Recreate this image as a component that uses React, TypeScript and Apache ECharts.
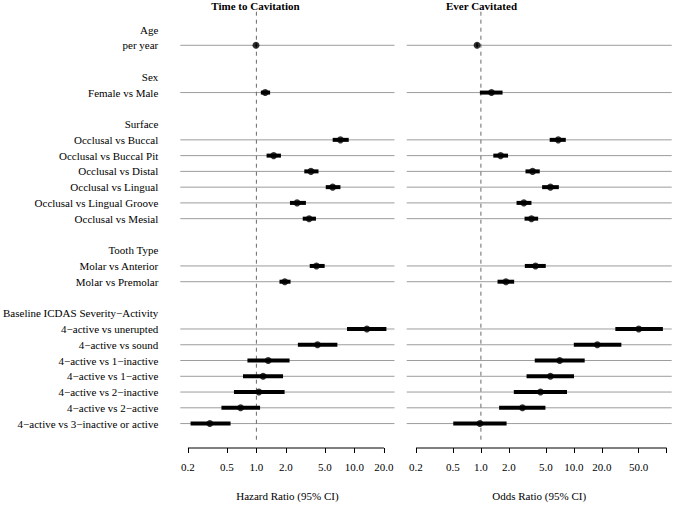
import React, { useEffect, useRef } from "react";
import * as echarts from "echarts";

// ---------- data ----------
const groupHeaders = ["Age", "Sex", "Surface", "Tooth Type", "Baseline ICDAS Severity\u2212Activity"];
const ageItems = ["per year"];
const sexItems = ["Female vs Male"];
const surfaceItems = [
  "Occlusal vs Buccal",
  "Occlusal vs Buccal Pit",
  "Occlusal vs Distal",
  "Occlusal vs Lingual",
  "Occlusal vs Lingual Groove",
  "Occlusal vs Mesial",
];
const toothItems = ["Molar vs Anterior", "Molar vs Premolar"];
const icdasItems = [
  "4\u2212active vs unerupted",
  "4\u2212active vs sound",
  "4\u2212active vs 1\u2212inactive",
  "4\u2212active vs 1\u2212active",
  "4\u2212active vs 2\u2212inactive",
  "4\u2212active vs 2\u2212active",
  "4\u2212active vs 3\u2212inactive or active",
];
const groupItems = [ageItems, sexItems, surfaceItems, toothItems, icdasItems];

// Time to Cavitation: hazard ratios (estimate, lower, upper)
const hrEst = [0.99, 1.23, 7.2, 1.5, 3.6, 6.0, 2.6, 3.45, 4.1, 1.95, 13.4, 4.2, 1.32, 1.17, 1.06, 0.69, 0.335];
const hrLo = [0.98, 1.11, 6.0, 1.27, 3.08, 5.1, 2.2, 2.97, 3.5, 1.72, 8.4, 2.65, 0.81, 0.73, 0.59, 0.44, 0.213];
const hrHi = [1.01, 1.38, 8.75, 1.78, 4.3, 7.2, 3.2, 4.05, 4.97, 2.23, 21.2, 6.7, 2.18, 1.87, 1.94, 1.09, 0.545];

// Ever Cavitated: odds ratios (estimate, lower, upper)
const orEst = [0.91, 1.3, 6.8, 1.63, 3.6, 5.6, 2.9, 3.5, 3.87, 1.86, 50, 17.9, 7.05, 5.6, 4.38, 2.8, 0.975];
const orLo = [0.89, 0.975, 5.5, 1.36, 3.02, 4.56, 2.42, 2.95, 2.97, 1.51, 28, 10, 3.8, 3.1, 2.26, 1.57, 0.504];
const orHi = [0.93, 1.71, 8.2, 1.96, 4.3, 6.9, 3.5, 4.13, 4.99, 2.28, 91, 32.5, 13.1, 10.05, 8.45, 4.95, 1.89];

const hrTicks = [0.2, 0.5, 1, 2, 5, 10, 20];
const hrTickLabels = [0.2, 0.5, 1, 2, 5, 10, 20];
const orTicks = [0.2, 0.5, 1, 2, 5, 10, 20, 50, 100];
const orTickLabels = [0.2, 0.5, 1, 2, 5, 10, 20, 50];

const panelTitles = ["Time to Cavitation", "Ever Cavitated"];
const axisTitles = ["Hazard Ratio (95% CI)", "Odds Ratio (95% CI)"];

// ---------- build rows ----------
const rowLabels: string[] = [];
const itemRows: number[] = [];
groupItems.forEach((items, g) => {
  rowLabels.push(groupHeaders[g]);
  items.forEach((it) => {
    itemRows.push(rowLabels.length);
    rowLabels.push(it);
  });
  if (g < groupItems.length - 1) rowLabels.push("");
});
const labelRows = rowLabels.map((l, i) => (l ? i : -1)).filter((i) => i >= 0);

const lg = (v: number) => Math.log10(v);
const FONT = '"Liberation Serif", "Times New Roman", Times, serif';
const Y_MIN = -1.15;
const Y_MAX = 26.55;

function buildPanel(
  gi: number,
  est: number[],
  lo: number[],
  hi: number[],
  ticks: number[],
  tickLabels: number[],
  xMin: number,
  xMax: number,
  showY: boolean
) {
  const xAxis = {
    gridIndex: gi,
    type: "value",
    min: xMin,
    max: xMax,
    position: "bottom",
    axisLine: { show: false, onZero: false },
    axisTick: {
      show: true,
      customValues: ticks.map(lg),
      length: 5,
      lineStyle: { color: "#000", width: 1 },
    },
    axisLabel: {
      customValues: tickLabels.map(lg),
      formatter: (v: number) => Math.pow(10, v).toFixed(1),
      margin: 13,
      color: "#000",
      fontFamily: FONT,
      fontSize: 11,
    },
    splitLine: { show: false },
    name: axisTitles[gi],
    nameLocation: "middle",
    nameGap: 42,
    nameTextStyle: { color: "#000", fontFamily: FONT, fontSize: 11 },
  };
  const yAxis = {
    gridIndex: gi,
    type: "value",
    inverse: true,
    min: Y_MIN,
    max: Y_MAX,
    axisLine: { show: false, onZero: false },
    axisTick: { show: false },
    splitLine: { show: false },
    axisLabel: showY
      ? {
          show: true,
          customValues: labelRows,
          formatter: (v: number) => rowLabels[Math.round(v)] || "",
          margin: 22,
          color: "#000",
          fontFamily: FONT,
          fontSize: 11,
        }
      : { show: false },
  };
  const series: any[] = [
    {
      type: "custom",
      xAxisIndex: gi,
      yAxisIndex: gi,
      silent: true,
      z: 1,
      data: itemRows.map((r) => [0, r]),
      encode: { x: 0, y: 1 },
      renderItem: (params: any, api: any) => {
        const y = api.coord([0, api.value(1)])[1];
        const cs = params.coordSys;
        return {
          type: "line",
          shape: { x1: cs.x, y1: y, x2: cs.x + cs.width, y2: y },
          style: { stroke: "#9c9c9c", lineWidth: 1 },
        };
      },
    },
    {
      type: "line",
      xAxisIndex: gi,
      yAxisIndex: gi,
      silent: true,
      z: 2,
      symbol: "none",
      clip: false,
      data: [
        [0, -1.13],
        [0, 26.05],
      ],
      lineStyle: { color: "#6a6a6a", width: 1, type: [4, 4] },
    },
    {
      type: "line",
      xAxisIndex: gi,
      yAxisIndex: gi,
      silent: true,
      z: 2,
      symbol: "none",
      clip: false,
      data: [
        [lg(ticks[0]), Y_MAX],
        [lg(ticks[ticks.length - 1]), Y_MAX],
      ],
      lineStyle: { color: "#000", width: 1 },
    },
    {
      type: "custom",
      xAxisIndex: gi,
      yAxisIndex: gi,
      silent: true,
      z: 3,
      data: itemRows.map((r, i) => [lg(lo[i]), lg(hi[i]), r]),
      encode: { x: [0, 1], y: 2 },
      renderItem: (params: any, api: any) => {
        const a = api.coord([api.value(0), api.value(2)]);
        const b = api.coord([api.value(1), api.value(2)]);
        return {
          type: "line",
          shape: { x1: a[0], y1: a[1], x2: b[0], y2: b[1] },
          style: { stroke: "#000", lineWidth: 4, lineCap: "butt" },
        };
      },
    },
    {
      type: "scatter",
      xAxisIndex: gi,
      yAxisIndex: gi,
      silent: true,
      z: 4,
      symbol: "circle",
      symbolSize: 7,
      itemStyle: { color: "#000" },
      data: itemRows.map((r, i) => [lg(est[i]), r]),
    },
  ];
  return { xAxis, yAxis, series };
}

export default function App() {
  const ref = useRef<HTMLDivElement>(null);
  useEffect(() => {
    if (!ref.current) return;
    const chart = echarts.init(ref.current, undefined, { renderer: "svg" });
    const left = buildPanel(0, hrEst, hrLo, hrHi, hrTicks, hrTickLabels, -0.7764, 1.4089, true);
    const right = buildPanel(1, orEst, orLo, orHi, orTicks, orTickLabels, -0.7987, 2.0538, false);
    chart.setOption({
      animation: false,
      backgroundColor: "#fff",
      textStyle: { fontFamily: FONT },
      grid: [
        { left: 178, top: 11.4, width: 216.5, height: 441.3, containLabel: false },
        { left: 406.7, top: 11.4, width: 265, height: 441.3, containLabel: false },
      ],
      xAxis: [left.xAxis, right.xAxis],
      yAxis: [left.yAxis, right.yAxis],
      series: [...left.series, ...right.series],
      graphic: [
        {
          type: "text",
          x: 255.5,
          y: 6,
          style: {
            text: panelTitles[0],
            font: `bold 11px ${FONT}`,
            fill: "#000",
            textAlign: "center",
            textVerticalAlign: "middle",
          },
        },
        {
          type: "text",
          x: 481.5,
          y: 6,
          style: {
            text: panelTitles[1],
            font: `bold 11px ${FONT}`,
            fill: "#000",
            textAlign: "center",
            textVerticalAlign: "middle",
          },
        },
      ],
    });
    return () => chart.dispose();
  }, []);
  return (
    <div
      ref={ref}
      style={{ position: "fixed", left: 0, top: 0, width: 675, height: 506, background: "#fff" }}
    />
  );
}
